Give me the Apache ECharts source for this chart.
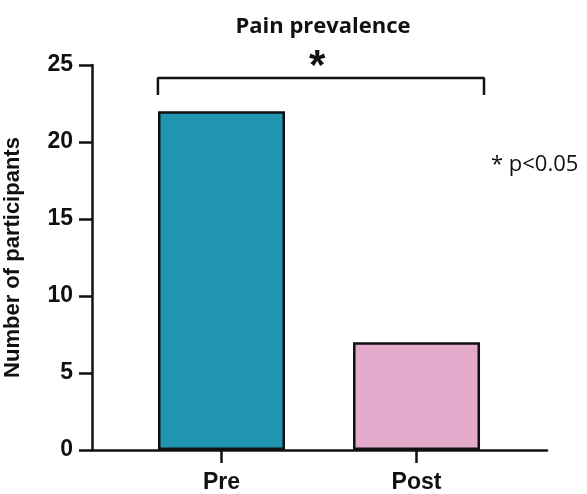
<!DOCTYPE html>
<html><head><meta charset="utf-8">
<script src="https://cdn.jsdelivr.net/npm/echarts@6/dist/echarts.min.js"></script>
<style>html,body{margin:0;padding:0;background:#fff}#c{width:587px;height:494px}</style>
</head><body><div id="c"></div>
<script>
const categories = ['Pre', 'Post'];
const values = [22, 7];
const barColors = ['#2196b0', '#e4aacb'];
const yTicks = [0, 5, 10, 15, 20, 25];
const bracketX = [-0.326, 1.346];
const bracketY = [23.05, 24.16];

const chart = echarts.init(document.getElementById('c'));
const barData = values.map((v, i) => ({ value: [i, v], itemStyle: { color: barColors[i] } }));
chart.setOption({
  animation: false,
  title: { text: 'Pain prevalence', left: 318, top: 11, textAlign: 'center',
    textStyle: { fontFamily: 'Open Sans', fontWeight: 'bold', fontSize: 22, color: '#111' } },
  grid: { left: 92, right: 40, top: 65, bottom: 44, containLabel: false, outerBoundsMode: 'none' },
  xAxis: {
    type: 'value', min: -0.664, max: 1.669,
    splitLine: { show: false },
    axisLine: { show: true, onZero: false, lineStyle: { color: '#111', width: 2.5 } },
    axisTick: { show: true, customValues: [0, 1], length: 13, inside: false, lineStyle: { color: '#111', width: 2.5 } },
    axisLabel: { customValues: [0, 1], formatter: v => categories[Math.round(v)], margin: 21,
      fontFamily: 'Liberation Sans', fontWeight: 'bold', fontSize: 23, color: '#111' }
  },
  yAxis: {
    type: 'value', min: 0, max: 25, interval: 5,
    name: 'Number of participants', nameLocation: 'middle', nameGap: 68,
    nameTextStyle: { fontFamily: 'Liberation Sans', fontWeight: 'bold', fontSize: 22, color: '#111' },
    splitLine: { show: false },
    axisLine: { show: true, onZero: false, lineStyle: { color: '#111', width: 2.5 } },
    axisTick: { show: true, length: 13, lineStyle: { color: '#111', width: 2.5 } },
    axisLabel: { fontFamily: 'Liberation Sans', fontWeight: 'bold', fontSize: 23, color: '#111', margin: 19 }
  },
  series: [
    { type: 'bar', data: barData, barWidth: 127,
      itemStyle: { borderColor: '#111', borderWidth: 2.5 } },
    { type: 'line', symbol: 'none', silent: true,
      lineStyle: { color: '#111', width: 2.5 },
      data: [[bracketX[0], bracketY[0]], [bracketX[0], bracketY[1]], [bracketX[1], bracketY[1]], [bracketX[1], bracketY[0]]] }
  ],
  graphic: [
    { type: 'text', left: 309, top: 46, style: { text: '*', font: 'bold 42px "Liberation Sans"', fill: '#111' } },
    { type: 'text', left: 491, top: 154, style: { text: '* p<0.05', font: '22px "Open Sans"', fill: '#111' } }
  ]
});
</script></body></html>
